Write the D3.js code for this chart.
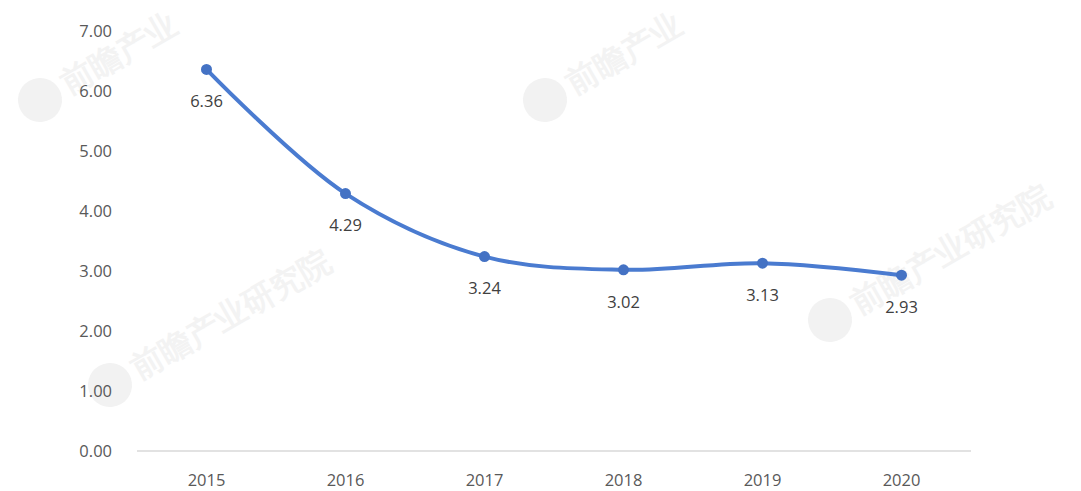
<!DOCTYPE html>
<html>
<head>
<meta charset="utf-8">
<script src="https://cdn.jsdelivr.net/npm/d3@7"></script>
<style>
  html, body { margin: 0; padding: 0; background: #fff; }
  #chart { width: 1081px; height: 491px; }
  text { font-family: "Open Sans", "Noto Sans", sans-serif; }
</style>
</head>
<body>
<div id="chart"></div>
<script>
const years = ["2015", "2016", "2017", "2018", "2019", "2020"];
const values = [6.36, 4.29, 3.24, 3.02, 3.13, 2.93];
const yTicks = [0, 1, 2, 3, 4, 5, 6, 7];

// marcas de agua (sólo decorativas)
const marcas = [
  { x: 40, y: 100, txt: "前瞻产业" },
  { x: 545, y: 100, txt: "前瞻产业" },
  { x: 830, y: 320, txt: "前瞻产业研究院" },
  { x: 110, y: 385, txt: "前瞻产业研究院" }
];

const width = 1081, height = 491;
const svg = d3.select("#chart").append("svg")
  .attr("width", width).attr("height", height);

const wm = svg.append("g");
marcas.forEach((m) => {
  const g = wm.append("g").attr("transform", `translate(${m.x},${m.y}) rotate(-30)`);
  g.append("circle").attr("r", 22).attr("fill", "#f2f2f2");
  g.append("text").attr("x", 28).attr("y", 10)
    .attr("font-family", "Noto Sans CJK SC").attr("font-size", 32).attr("font-weight", 700)
    .attr("fill", "#f3f3f3").text(m.txt);
});

const x = d3.scaleBand().domain(years).range([137, 971]);
const y = d3.scaleLinear().domain([0, 7]).range([451, 31]);

// eje y
svg.append("g")
  .selectAll("text")
  .data(yTicks)
  .join("text")
  .attr("x", 112)
  .attr("y", (d) => y(d))
  .attr("dy", "0.35em")
  .attr("text-anchor", "end")
  .attr("font-size", 16.5)
  .attr("fill", "#595959")
  .text((d) => d.toFixed(2));

// línea base
svg.append("line")
  .attr("x1", x.range()[0]).attr("x2", x.range()[1])
  .attr("y1", y(0)).attr("y2", y(0))
  .attr("stroke", "#d9d9d9").attr("stroke-width", 1.5);

// eje x
svg.append("g")
  .selectAll("text")
  .data(years)
  .join("text")
  .attr("x", (d) => x(d) + x.bandwidth() / 2)
  .attr("y", 480)
  .attr("dy", "0.35em")
  .attr("text-anchor", "middle")
  .attr("font-size", 16.5)
  .attr("fill", "#595959")
  .text((d) => d);

const puntos = years.map((yr, i) => ({ yr, v: values[i] }));
const linea = d3.line()
  .x((d) => x(d.yr) + x.bandwidth() / 2)
  .y((d) => y(d.v))
  .curve(d3.curveCatmullRom.alpha(0.5));

svg.append("path")
  .datum(puntos)
  .attr("d", linea)
  .attr("fill", "none")
  .attr("stroke", "#4a7bd0")
  .attr("stroke-width", 4)
  .attr("stroke-linecap", "round");

svg.append("g")
  .selectAll("circle")
  .data(puntos)
  .join("circle")
  .attr("cx", (d) => x(d.yr) + x.bandwidth() / 2)
  .attr("cy", (d) => y(d.v))
  .attr("r", 5.5)
  .attr("fill", "#4472c4");

svg.append("g")
  .selectAll("text")
  .data(puntos)
  .join("text")
  .attr("x", (d) => x(d.yr) + x.bandwidth() / 2)
  .attr("y", (d) => y(d.v) + 32)
  .attr("dy", "0.35em")
  .attr("text-anchor", "middle")
  .attr("font-size", 16.5)
  .attr("fill", "#404040")
  .text((d) => d.v.toFixed(2));
</script>
</body>
</html>
